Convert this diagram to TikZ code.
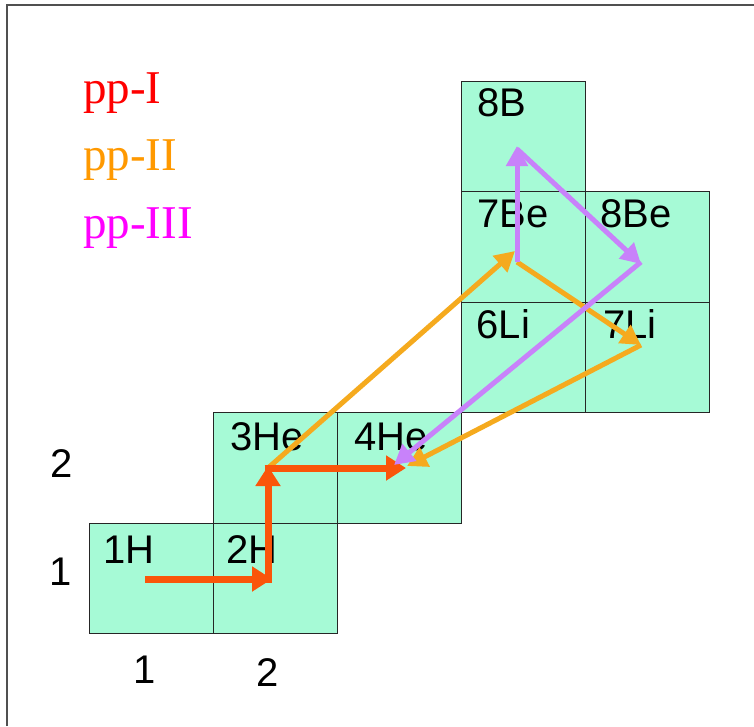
\documentclass[tikz,border=0pt]{standalone}
\usepackage{fontspec}
\setmainfont{Liberation Sans}
\newfontfamily\serifpp{Liberation Serif}
\usetikzlibrary{arrows.meta}
\definecolor{cellfill}{RGB}{166,250,214}
\definecolor{ppone}{RGB}{255,0,0}
\definecolor{pptwo}{RGB}{255,153,0}
\definecolor{ppthree}{RGB}{255,0,255}
\definecolor{redarrow}{RGB}{250,85,10}
\definecolor{orangearrow}{RGB}{245,170,30}
\definecolor{violetarrow}{RGB}{200,130,250}
\definecolor{framegray}{RGB}{80,80,80}
\begin{document}
\begin{tikzpicture}[x=1pt,y=-1pt,
  cell/.style={draw=black!85, line width=1pt, fill=cellfill, minimum width=124pt,
    minimum height=110.5pt, inner sep=0pt, outer sep=0pt, anchor=north west},
  lbl/.style={anchor=base west, inner sep=0pt, font=\fontsize{40}{48}\selectfont},
  ax/.style={anchor=base, inner sep=0pt, font=\fontsize{40}{48}\selectfont},
  pp/.style={anchor=base west, inner sep=0pt, font=\serifpp\fontsize{47}{56}\selectfont},
  redarr/.style={draw=redarrow, line width=7pt, line cap=butt,
    -{Triangle[length=20pt,width=24pt]}},
  orarr/.style={draw=orangearrow, line width=5pt,
    -{Triangle[length=20pt,width=21pt]}},
  viarr/.style={draw=violetarrow, line width=5pt,
    -{Triangle[length=20pt,width=21pt]}}]
\useasboundingbox (0,0) rectangle (754,726);
\fill[white] (0,0) rectangle (754,726);
% frame (top and left edges)
\draw[framegray, line width=2pt] (7,726) -- (7,5) -- (754,5);

% legend
\node[pp, text=ppone]   (ppI)   at (83,103) {pp-I};
\node[pp, text=pptwo]   (ppII)  at (83,170) {pp-II};
\node[pp, text=ppthree] (ppIII) at (83,238) {pp-III};

% cells
\node[cell] (c1H)  at (89,523)   {};
\node[cell] (c2H)  at (213,523)  {};
\node[cell] (c3He) at (213,412.5){};
\node[cell] (c4He) at (337,412.5){};
\node[cell] (c6Li) at (461,302)  {};
\node[cell] (c7Li) at (585,302)  {};
\node[cell] (c7Be) at (461,191.5){};
\node[cell] (c8Be) at (585,191.5){};
\node[cell] (c8B)  at (461,81)   {};

% cell labels
\node[lbl] (t1H)  at ([shift={(14,40)}]c1H.north west)    {1H};
\node[lbl] (t2H)  at ([shift={(13.5,40)}]c2H.north west)  {2H};
\node[lbl] (t3He) at ([shift={(17,37.5)}]c3He.north west) {3He};
\node[lbl] (t4He) at ([shift={(17,37.5)}]c4He.north west) {4He};
\node[lbl] (t6Li) at ([shift={(15.5,36)}]c6Li.north west) {6Li};
\node[lbl] (t7Li) at ([shift={(18,36)}]c7Li.north west)   {7Li};
\node[lbl] (t7Be) at ([shift={(16,35.5)}]c7Be.north west) {7Be};
\node[lbl] (t8Be) at ([shift={(15,35.5)}]c8Be.north west) {8Be};
\node[lbl] (t8B)  at ([shift={(16.5,35)}]c8B.north west)  {8B};

% axis labels
\node[ax] (xa1) at (145,683) {1};
\node[ax] (xa2) at (268,686) {2};
\node[ax] (ya2) at (62,477)  {2};
\node[ax] (ya1) at (61,585)  {1};

% arrow points
\coordinate (p1H)   at (145,579);
\coordinate (p2Htip) at (272,579);
\coordinate (p2H)   at (268,582.5);
\coordinate (p3Htip) at (268,466);
\coordinate (p3He)  at (264.5,468);
\coordinate (p3Heo) at (268,468);
\coordinate (p4Her) at (406,468);
\coordinate (p7Beo) at (515,251);
\coordinate (p7Be)  at (517,262);
\coordinate (p7Li)  at (641,345);
\coordinate (p4Heo) at (407,466);
\coordinate (p8B)   at (517,146);
\coordinate (p8Bs)  at (517,149);
\coordinate (p8Be)  at (641,264);
\coordinate (p8Bes) at (641,262);
\coordinate (p4Hev) at (394,465);

% pp-II (orange)
\draw[orarr] (p3Heo) -- (p7Beo);
\draw[orarr] (p7Be) -- (p7Li);
\draw[orarr] (p7Li) -- (p4Heo);

% pp-I (red)
\draw[redarr] (p1H) -- (p2Htip);
\draw[redarr] (p2H) -- (p3Htip);
\draw[redarr] (p3He) -- (p4Her);

% pp-III (violet)
\draw[viarr] (p7Be) -- (p8B);
\draw[viarr] (p8Bs) -- (p8Be);
\draw[viarr] (p8Bes) -- (p4Hev);
\end{tikzpicture}
\end{document}
